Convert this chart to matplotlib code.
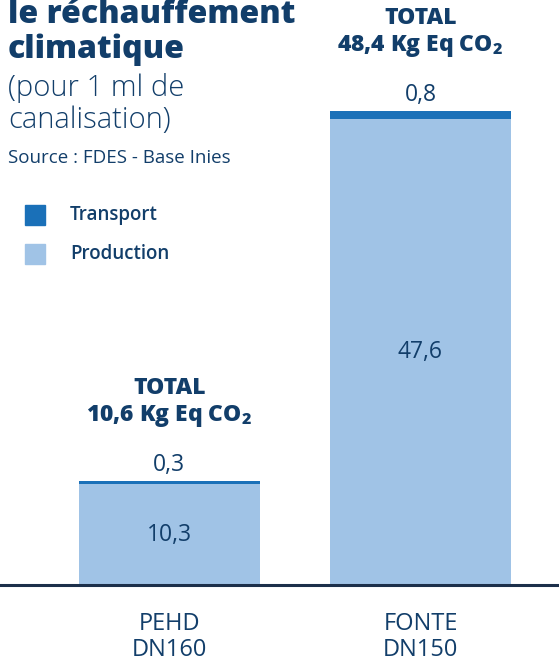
import matplotlib
matplotlib.use('Agg')
import matplotlib.pyplot as plt

# ── data ──────────────────────────────────────────────
categories = ['PEHD\nDN160', 'FONTE\nDN150']
production = [10.3, 47.6]
transport = [0.3, 0.8]
totals = [10.6, 48.4]
production_labels = ['10,3', '47,6']
transport_labels = ['0,3', '0,8']
total_labels = [r'10,6 Kg Eq CO$_\mathregular{2}$', r'48,4 Kg Eq CO$_\mathregular{2}$']

NAVY = '#123e6a'
C_PROD = '#a0c3e6'
C_TRANS = '#1a70b8'
FAM = ['Open Sans', 'DejaVu Sans']

plt.rcParams['font.family'] = FAM

W, H = 559, 663
fig = plt.figure(figsize=(W / 100, H / 100), dpi=100, facecolor='white')

def fx(px):
    return px / W

def fy(py):
    return 1 - py / H

# axes: baseline at y=585px, full width
base_px = 585
ax = fig.add_axes([0, fy(base_px), 1, base_px / H])
ax.set_ylim(0, base_px / 9.79)
ax.set_xlim(-0.675, 1.552)
for s in ax.spines.values():
    s.set_visible(False)
ax.set_xticks([])
ax.set_yticks([])
ax.patch.set_alpha(0)

x = [0, 1]
bw = 0.721
ax.bar(x, production, width=bw, color=C_PROD, zorder=2)
ax.bar(x, transport, width=bw, bottom=production, color=C_TRANS, zorder=2)
ax.axhline(0, color='#1c2f4a', lw=2.2, zorder=3, clip_on=False)

for i in x:
    ax.text(i, production[i] / 2, production_labels[i], ha='center', va='center',
            fontsize=16.5, color=NAVY)
    ax.annotate(transport_labels[i], (i, totals[i]), xytext=(0, 11.5),
                textcoords='offset points', ha='center', va='center',
                fontsize=16.5, color=NAVY)
    ax.annotate(total_labels[i], (i, totals[i]), xytext=(0, 47),
                textcoords='offset points', ha='center', va='center',
                fontsize=16.5, color=NAVY, fontweight='heavy')
    ax.annotate('TOTAL', (i, totals[i]), xytext=(0, 67),
                textcoords='offset points', ha='center', va='center',
                fontsize=16.5, color=NAVY, fontweight='heavy')
    name, dn = categories[i].split('\n')
    cx = ax.transData.transform((i, 0))[0] / fig.dpi / fig.get_figwidth()
    fig.text(cx, fy(624), name, ha='center', va='center', fontsize=17, color=NAVY)
    fig.text(cx, fy(650), dn, ha='center', va='center', fontsize=17, color=NAVY)

# title block
fig.text(fx(8), fy(15), 'le réchauffement', ha='left', va='center',
         fontsize=23, color=NAVY, fontweight='heavy')
fig.text(fx(8), fy(50), 'climatique', ha='left', va='center',
         fontsize=23, color=NAVY, fontweight='heavy')
fig.text(fx(8), fy(88), '(pour 1 ml de', ha='left', va='center',
         fontsize=21, color=NAVY, fontweight='light')
fig.text(fx(8), fy(120), 'canalisation)', ha='left', va='center',
         fontsize=21, color=NAVY, fontweight='light')
fig.text(fx(8), fy(158), 'Source : FDES - Base Inies', ha='left', va='center',
         fontsize=13.5, color=NAVY)

# legend
for lbl, col, py in [('Transport', C_TRANS, 215), ('Production', C_PROD, 254)]:
    fig.patches.append(plt.Rectangle((fx(25), fy(py + 10)), fx(20), 20 / H,
                                     transform=fig.transFigure, color=col))
    fig.text(fx(70), fy(py), lbl, ha='left', va='center', fontsize=13.5,
             color=NAVY, fontweight='semibold')

fig.savefig('out.png', dpi=100, facecolor='white')
